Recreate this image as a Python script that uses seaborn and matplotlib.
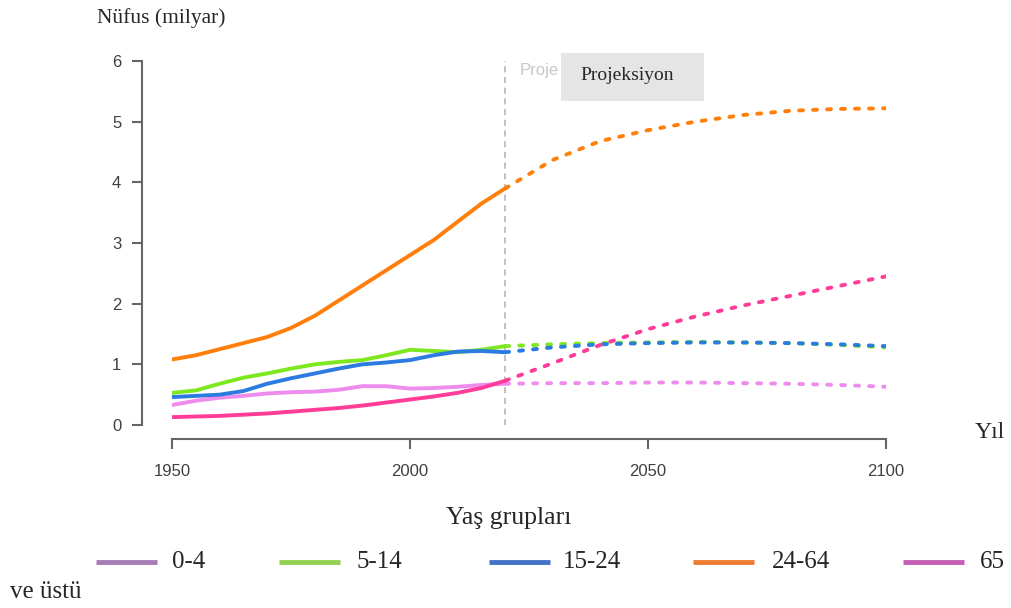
import numpy as np
import pandas as pd
import seaborn as sns
import matplotlib.pyplot as plt
from matplotlib.lines import Line2D
from matplotlib.patches import Rectangle

# historical estimates (5-year steps)
years_hist = [1950, 1955, 1960, 1965, 1970, 1975, 1980, 1985, 1990, 1995, 2000, 2005, 2010, 2015, 2020]
hist_0_4 = [0.33, 0.40, 0.45, 0.48, 0.52, 0.54, 0.55, 0.58, 0.64, 0.64, 0.60, 0.61, 0.63, 0.66, 0.68]
hist_5_14 = [0.53, 0.57, 0.68, 0.78, 0.85, 0.93, 1.00, 1.04, 1.07, 1.15, 1.24, 1.22, 1.20, 1.24, 1.30]
hist_15_24 = [0.46, 0.48, 0.50, 0.56, 0.68, 0.77, 0.85, 0.93, 1.00, 1.03, 1.07, 1.15, 1.21, 1.22, 1.20]
hist_24_64 = [1.08, 1.15, 1.25, 1.35, 1.45, 1.60, 1.80, 2.05, 2.30, 2.55, 2.80, 3.05, 3.35, 3.65, 3.90]
hist_65 = [0.13, 0.14, 0.15, 0.17, 0.19, 0.22, 0.25, 0.28, 0.32, 0.37, 0.42, 0.47, 0.53, 0.61, 0.73]

# projections (10-year steps)
years_proj = [2020, 2030, 2040, 2050, 2060, 2070, 2080, 2090, 2100]
proj_0_4 = [0.68, 0.69, 0.69, 0.70, 0.70, 0.69, 0.68, 0.66, 0.63]
proj_5_14 = [1.30, 1.33, 1.35, 1.36, 1.37, 1.36, 1.35, 1.32, 1.28]
proj_15_24 = [1.20, 1.28, 1.33, 1.35, 1.36, 1.36, 1.35, 1.33, 1.30]
proj_24_64 = [3.90, 4.37, 4.68, 4.86, 5.00, 5.11, 5.18, 5.21, 5.22]
proj_65 = [0.73, 1.02, 1.32, 1.58, 1.79, 1.97, 2.13, 2.29, 2.45]

groups = ["0-4", "5-14", "15-24", "24-64", "65+"]
line_colors = ["#ee8cee", "#7ee81e", "#2b7be0", "#ff7f0a", "#ff3d99"]
legend_colors = ["#a67cb6", "#92d050", "#4472c4", "#ed7d31", "#c55eb4"]
legend_labels = ["0-4", "5-14", "15-24", "24-64", "65"]

hist = [hist_0_4, hist_5_14, hist_15_24, hist_24_64, hist_65]
proj = [proj_0_4, proj_5_14, proj_15_24, proj_24_64, proj_65]

rows = []
for g, h, p in zip(groups, hist, proj):
    for y, v in zip(years_hist, h):
        rows.append({"year": y, "pop": v, "group": g, "phase": "hist"})
    for y, v in zip(years_proj, p):
        rows.append({"year": y, "pop": v, "group": g, "phase": "proj"})
df = pd.DataFrame(rows)

sns.set_style("white")
serif = ["Liberation Serif", "DejaVu Serif"]
sans = ["Liberation Sans", "DejaVu Sans"]

fig = plt.figure(figsize=(10.12, 6.08), dpi=100)
ax = fig.add_axes([172 / 1012, 1 - 425 / 608, (886 - 172) / 1012, (425 - 61) / 608])

sns.lineplot(data=df, x="year", y="pop", hue="group", style="phase",
             palette=dict(zip(groups, line_colors)),
             dashes={"hist": "", "proj": (1.0, 2.6)},
             linewidth=2.8, legend=False, ax=ax, estimator=None)
for ln in ax.get_lines():
    ln.set_dash_capstyle("round")
    ln.set_solid_capstyle("round")

ax.axvline(2020, ymin=-0.03, ymax=1.0, color="#b0b0b0", lw=1.1, ls=(0, (4, 3)), zorder=0)

ax.set_xlim(1950, 2100)
ax.set_ylim(0, 6)
ax.set_xticks([1950, 2000, 2050, 2100])
ax.set_yticks([0, 1, 2, 3, 4, 5, 6])
ax.set_xlabel("")
ax.set_ylabel("")

for side in ["top", "right"]:
    ax.spines[side].set_visible(False)
ax.spines["left"].set_position(("outward", 21.5))
ax.spines["bottom"].set_position(("outward", 10))
ax.spines["left"].set_bounds(0, 6)
ax.spines["bottom"].set_bounds(1950, 2100)
for side in ["left", "bottom"]:
    ax.spines[side].set_color("#666666")
    ax.spines[side].set_linewidth(1.5)
ax.tick_params(axis="both", which="both", direction="out", length=7, width=1.5,
               color="#666666", labelcolor="#404040", labelsize=12, left=True, bottom=True)
ax.tick_params(axis="y", pad=8)
ax.tick_params(axis="x", pad=11)
for lab in ax.get_xticklabels() + ax.get_yticklabels():
    lab.set_family(sans)

# projection label: the grey box hides the rest of the original word
ax.text(2023, 5.85, "Proje", color="#c8c8c8", fontsize=12, family=sans, va="center", zorder=1)
fig.add_artist(Rectangle((561 / 1012, 1 - 101 / 608), 143 / 1012, 48 / 608,
                         transform=fig.transFigure, facecolor="#e5e5e5", edgecolor="none", zorder=5))
fig.text(580 / 1012, 1 - 76 / 608, "Projeksiyon", family=serif, fontsize=14, va="center", zorder=6)

fig.text(97 / 1012, 1 - 18 / 608, "Nüfus (milyar)", family=serif, fontsize=15.5, va="center")
fig.text(975 / 1012, 1 - 433 / 608, "Yıl", family=serif, fontsize=17, va="center")

# legend
fig.text(509 / 1012, 1 - 518 / 608, "Yaş grupları", family=serif, fontsize=18.5, ha="center", va="center")
handle_x = [96, 279, 489, 693, 903]
text_x = [172, 357, 563, 772, 980]
ly = 1 - 562 / 608
for hx, tx, col, lab in zip(handle_x, text_x, legend_colors, legend_labels):
    fig.add_artist(Line2D([hx / 1012, (hx + 61) / 1012], [ly, ly], transform=fig.transFigure,
                          color=col, lw=3.5, solid_capstyle="butt"))
    fig.text(tx / 1012, ly, lab, family=serif, fontsize=18, va="center")
fig.text(10 / 1012, 1 - 592 / 608, "ve üstü", family=serif, fontsize=18, va="center")

fig.savefig("out.png", dpi=100)
